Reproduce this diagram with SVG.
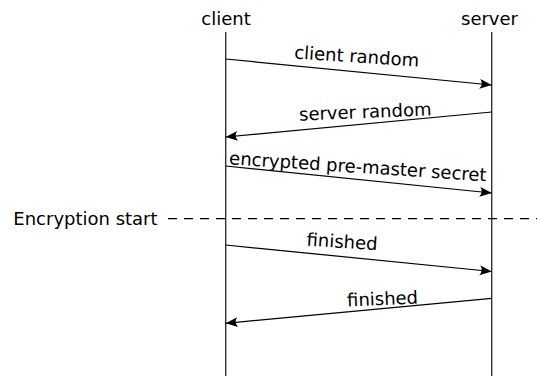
<svg xmlns="http://www.w3.org/2000/svg" width="537" height="376" viewBox="0 0 537 376">
  <style>
    text { font-family: "DejaVu Sans", "Noto Sans", sans-serif; font-size: 18px; fill: #000; }
    .head { text-anchor: middle; }
    .msg { text-anchor: middle; }
    .lifeline { stroke: #333; stroke-width: 1.4; fill: none; }
    .arrow { stroke: #000; stroke-width: 1.25; fill: none; marker-end: url(#tip); }
    .phase { stroke: #000; stroke-width: 1.2; stroke-dasharray: 9 7; fill: none; }
  </style>
  <defs>
    <marker id="tip" markerUnits="userSpaceOnUse" markerWidth="13" markerHeight="11" refX="12" refY="5" orient="auto">
      <path d="M0,0 Q4,5 0,10 L12,5 Z" fill="#000"/>
    </marker>
  </defs>

  <!-- participants -->
  <g id="client">
    <text class="head" x="226" y="25">client</text>
    <line class="lifeline" x1="225.7" y1="32" x2="225.7" y2="376"/>
  </g>
  <g id="server">
    <text class="head" x="489.5" y="25">server</text>
    <line class="lifeline" x1="491.7" y1="32" x2="491.7" y2="376"/>
  </g>

  <!-- phase marker -->
  <g id="encryption-start">
    <text x="13.3" y="224.5">Encryption start</text>
    <line class="phase" x1="168" y1="218.7" x2="537" y2="218.7"/>
  </g>

  <!-- messages -->
  <g id="connectors">
    <line class="arrow" x1="225.7" y1="59" x2="491.7" y2="85"/>
    <line class="arrow" x1="491.7" y1="112" x2="225.7" y2="137"/>
    <line class="arrow" x1="225.7" y1="166" x2="491.7" y2="193"/>
    <line class="arrow" x1="225.7" y1="245" x2="491.7" y2="271.5"/>
    <line class="arrow" x1="491.7" y1="298.3" x2="225.7" y2="323.3"/>
  </g>

  <g id="labels">
    <text class="msg" x="356.3" y="62.6" transform="rotate(3.8 356.3 62.6)">client random</text>
    <text class="msg" x="365.5" y="118" transform="rotate(-2.3 365.5 118)">server random</text>
    <text class="msg" x="357.5" y="172.8" transform="rotate(3.8 357.5 172.8)">encrypted pre-master secret</text>
    <text class="msg" x="341.7" y="247.9" transform="rotate(3.6 341.7 247.9)">finished</text>
    <text class="msg" x="382.8" y="305" transform="rotate(-2.6 382.8 305)">finished</text>
  </g>
</svg>
